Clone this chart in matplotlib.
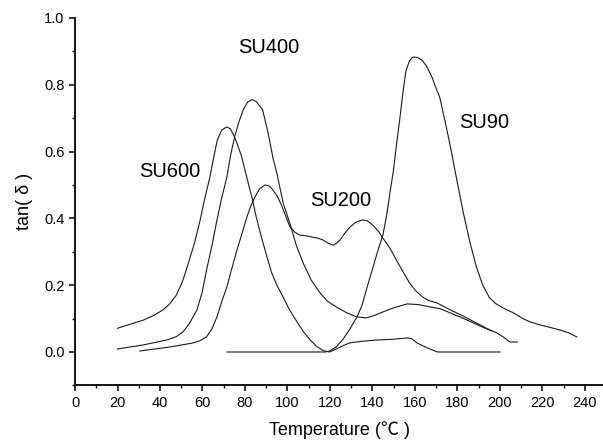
import numpy as np
import matplotlib
matplotlib.use("Agg")
import matplotlib.pyplot as plt

plt.rcParams['font.family'] = ['Liberation Sans', 'Noto Sans CJK SC', 'DejaVu Sans']

# ---------------- dados ----------------
su600_x = [20, 25.4, 32, 36.6, 41.4, 44.7, 47.7, 50.8, 53.8, 56.4,
           58.9, 60.9, 63.5, 65.5, 67, 69, 71.4, 73.1, 75.1, 78.2,
           80.8, 83.3, 85.3, 87.8, 90.4, 92.4, 95, 97.9, 101.1, 104.5,
           107.6, 110.7, 113.7, 116.8, 119.8, 123.9, 129, 135, 142.2, 149.3,
           156.4, 158.4, 161, 165.5, 170.6, 180, 190, 200]
su600_y = [0.071, 0.082, 0.095, 0.108, 0.126, 0.145, 0.17, 0.215, 0.275, 0.33,
           0.395, 0.455, 0.524, 0.59, 0.635, 0.664, 0.674, 0.668, 0.644, 0.59,
           0.524, 0.462, 0.404, 0.342, 0.284, 0.24, 0.2, 0.165, 0.125, 0.09,
           0.06, 0.036, 0.017, 0.004, 0.0, 0.012, 0.027, 0.032, 0.036, 0.038,
           0.042, 0.04, 0.027, 0.013, 0.0, 0.0, 0.0, 0.0]

su400_x = [20, 32, 43.3, 47.7, 50.8, 53.8, 57.4, 59.9, 61.9, 64.5,
           66.8, 69, 71.5, 73.1, 75.1, 77.2, 79.2, 81.2, 83.3, 85.3,
           88.3, 90.9, 93.2, 95, 98, 101.1, 104.1, 107.4, 111.2, 115.3,
           118.8, 122.9, 128, 132.7, 137.1, 141.2, 144.9, 150.3, 156.4, 161.5,
           167, 171.6, 176.7, 184.4, 189.9, 196]
su400_y = [0.009, 0.021, 0.036, 0.046, 0.06, 0.085, 0.126, 0.18, 0.245, 0.32,
           0.395, 0.46, 0.524, 0.585, 0.644, 0.69, 0.725, 0.748, 0.756, 0.75,
           0.725, 0.655, 0.58, 0.535, 0.445, 0.386, 0.32, 0.266, 0.215, 0.177,
           0.152, 0.135, 0.117, 0.105, 0.102, 0.11, 0.12, 0.133, 0.144, 0.142,
           0.135, 0.13, 0.117, 0.096, 0.08, 0.063]

su200_x = [30.5, 44.7, 55.5, 58.9, 61.9, 64.5, 66.8, 69, 71.5, 73.8,
           76.2, 78.6, 80.9, 82.8, 84.7, 86.8, 89.4, 91.4, 93.2, 95.5,
           97.5, 101.1, 103.6, 105.6, 108.7, 111.7, 114.8, 116.8, 119.3, 121.5,
           122.9, 124.7, 126.9, 129.4, 132, 135.1, 137.6, 140.1, 142.7, 144.9,
           148.3, 151.3, 154.4, 157.4, 160.4, 163.5, 166.5, 170.3, 176.7, 182.8,
           188.9, 194, 198.5, 201.6, 203.6, 204.7, 208.2]
su200_y = [0.003, 0.015, 0.027, 0.034, 0.045, 0.07, 0.105, 0.15, 0.195, 0.25,
           0.305, 0.355, 0.404, 0.438, 0.464, 0.488, 0.5, 0.497, 0.485, 0.463,
           0.434, 0.375, 0.358, 0.35, 0.348, 0.344, 0.34, 0.335, 0.325, 0.32,
           0.325, 0.335, 0.355, 0.374, 0.388, 0.395, 0.393, 0.38, 0.362, 0.341,
           0.31, 0.275, 0.24, 0.207, 0.183, 0.165, 0.154, 0.147, 0.126, 0.107,
           0.087, 0.07, 0.057, 0.045, 0.035, 0.03, 0.03]

su90_x = [71.5, 117.8, 119.8, 122.9, 125.9, 129, 132.7, 135.1, 137.1, 139.6,
          142.2, 144.9, 146.7, 148.3, 149.8, 151.3, 152.9, 154.4, 155.7, 157.4,
          159, 161, 163.3, 165.5, 168, 169.6, 171.6, 174.2, 176.7, 179.7,
          182.8, 185.8, 188.9, 191.9, 195, 198, 201.1, 206.1, 210.8, 214.3,
          218.8, 223.4, 228.2, 232.5, 236.2]
su90_y = [0.0, 0.0, 0.003, 0.015, 0.036, 0.065, 0.105, 0.14, 0.186, 0.24,
          0.296, 0.35, 0.41, 0.48, 0.54, 0.62, 0.70, 0.78, 0.84, 0.872,
          0.883, 0.882, 0.874, 0.855, 0.823, 0.795, 0.764, 0.69, 0.614, 0.515,
          0.416, 0.33, 0.255, 0.2, 0.163, 0.145, 0.133, 0.118, 0.1, 0.09,
          0.081, 0.074, 0.066, 0.057, 0.045]

rotulos = ["SU600", "SU400", "SU200", "SU90"]
rotulos_x = [44.7, 91.3, 125.2, 192.5]
rotulos_y = [0.539, 0.913, 0.455, 0.686]
# --------------------------------------------------------

fig = plt.figure(figsize=(6.03, 4.44), dpi=100)
ax = fig.add_axes([0.1244, 0.132, 0.8756, 0.8275])

for xs, ys in [(su600_x, su600_y), (su400_x, su400_y),
               (su200_x, su200_y), (su90_x, su90_y)]:
    ax.plot(xs, ys, color='#1a1a1a', linewidth=0.8)

for txt, tx, ty in zip(rotulos, rotulos_x, rotulos_y):
    ax.text(tx, ty, txt, fontsize=14.5, ha='center', va='center')

ax.set_xlim(0, 248.5)
ax.set_ylim(-0.1, 1.0)
ax.set_xticks(np.arange(0, 241, 20))
ax.set_xticks(np.arange(10, 241, 20), minor=True)
ax.set_yticks([0.0, 0.2, 0.4, 0.6, 0.8, 1.0])
ax.set_yticklabels(["0.0", "0.2", "0.4", "0.6", "0.8", "1.0"])
ax.set_yticks([-0.1, 0.1, 0.3, 0.5, 0.7, 0.9], minor=True)

ax.spines['top'].set_visible(False)
ax.spines['right'].set_visible(False)
ax.spines['left'].set_linewidth(1.3)
ax.spines['bottom'].set_linewidth(1.3)
ax.tick_params(which='major', direction='out', length=4.5, width=1.1, labelsize=10.5, pad=3)
ax.tick_params(which='minor', direction='out', length=2.5, width=1.0)

ax.set_xlabel("Temperature (℃ )", fontsize=13, labelpad=8)
ax.set_ylabel("tan( δ )", fontsize=13, labelpad=8)

fig.savefig("out.png", dpi=100)
